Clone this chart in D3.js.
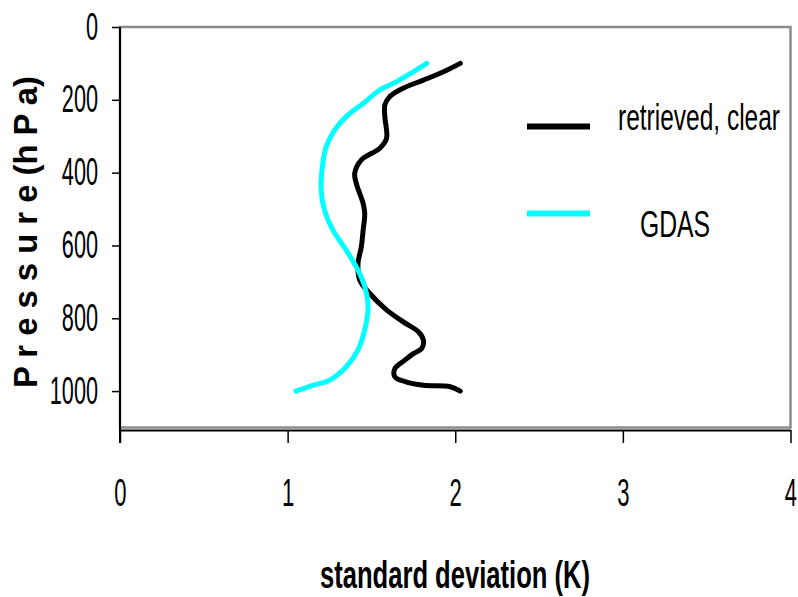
<!DOCTYPE html>
<html>
<head>
<meta charset="utf-8">
<script src="https://cdn.jsdelivr.net/npm/d3@7"></script>
<style>
  html, body { margin: 0; padding: 0; background: #fff; }
  svg { display: block; }
  text { font-family: "Liberation Sans", Arial, sans-serif; fill: #000; }
</style>
</head>
<body>
<svg id="chart" width="798" height="597"></svg>
<script>
// ---- data ----
const seriesNames = ["retrieved, clear", "GDAS"];
const seriesColors = ["#000000", "#00FFFF"];

const retrievedPressure = [100,123,146,168,191,214,246,306,333,365,402,430,484,512,560,603,649,695,732,777,810,837,860,883,897,915,938,961,974,984,988,1000];
const retrievedSD       = [2.03,1.93,1.81,1.69,1.61,1.58,1.58,1.59,1.55,1.44,1.40,1.41,1.45,1.46,1.45,1.44,1.42,1.43,1.49,1.59,1.69,1.78,1.81,1.80,1.75,1.70,1.64,1.64,1.70,1.81,1.97,2.03];

const gdasPressure = [100,123,150,173,210,246,283,329,374,448,503,558,613,668,713,768,832,887,933,970,984,1000];
const gdasSD       = [1.83,1.75,1.65,1.55,1.45,1.35,1.28,1.23,1.21,1.20,1.22,1.27,1.35,1.42,1.46,1.48,1.46,1.42,1.35,1.25,1.15,1.05];

const xTicks = [0, 1, 2, 3, 4];
const yTicks = [0, 200, 400, 600, 800, 1000];
const xTitle = "standard deviation (K)";
const yTitle = "P r e s s u r e  (h P a)";

// ---- layout ----
const svg = d3.select("#chart");
const x = d3.scaleLinear().domain([0, 4]).range([120, 790.5]);
const y = d3.scaleLinear().domain([0, 1100]).range([27, 427.5]);

function condense(sel, factor) {
  sel.each(function () {
    const len = this.getComputedTextLength();
    d3.select(this).attr("textLength", len * factor).attr("lengthAdjust", "spacingAndGlyphs");
  });
}

// plot box (grey)
svg.append("rect")
  .attr("x", x(0)).attr("y", y(0))
  .attr("width", x(4) - x(0)).attr("height", y(1100) - y(0))
  .attr("fill", "none").attr("stroke", "#8c8c8c").attr("stroke-width", 2.5);

// x axis
const xAxisY = y(1100) + 2.5;
const xAxis = svg.append("g")
  .attr("transform", `translate(0,${xAxisY})`)
  .attr("font-size", null).attr("font-family", null)
  .call(d3.axisBottom(x).tickValues(xTicks).tickFormat(d3.format("d")).tickSize(13).tickSizeOuter(0).tickPadding(36));
xAxis.attr("font-size", 38);
xAxis.select(".domain").attr("stroke", "#000").attr("stroke-width", 2);
xAxis.selectAll(".tick line").attr("stroke", "#000").attr("stroke-width", 1.5);
xAxis.selectAll(".tick text").style("font-size", "38px").style("font-family", "'Liberation Sans', Arial, sans-serif");
condense(xAxis.selectAll(".tick text"), 0.58);

// y axis
const yAxis = svg.append("g")
  .attr("transform", `translate(${x(0)},0)`)
  .call(d3.axisLeft(y).tickValues(yTicks).tickFormat(d3.format("d")).tickSize(8).tickSizeOuter(0).tickPadding(14));
yAxis.attr("font-size", 38);
yAxis.select(".domain").remove();
yAxis.append("line")
  .attr("x1", 0).attr("x2", 0)
  .attr("y1", y(0)).attr("y2", xAxisY + 13)
  .attr("stroke", "#000").attr("stroke-width", 2);
yAxis.selectAll(".tick line").attr("stroke", "#000").attr("stroke-width", 1.5);
yAxis.selectAll(".tick text").style("font-size", "38px").style("font-family", "'Liberation Sans', Arial, sans-serif");
condense(yAxis.selectAll(".tick text"), 0.57);

// series
const line = d3.line().x(d => x(d[0])).y(d => y(d[1])).curve(d3.curveCatmullRom.alpha(0.5));
const series = [
  d3.zip(retrievedSD, retrievedPressure),
  d3.zip(gdasSD, gdasPressure)
];
svg.append("g").selectAll("path")
  .data(series)
  .join("path")
  .attr("d", line)
  .attr("fill", "none")
  .attr("stroke", (d, i) => seriesColors[i])
  .attr("stroke-width", 5)
  .attr("stroke-linejoin", "round")
  .attr("stroke-linecap", "round");

// legend
const legendRows = [
  { y: 126.5, tx: 618, ty: 130, w: 162 },
  { y: 213.5, tx: 640, ty: 237, w: 70 }
];
const legend = svg.append("g");
legendRows.forEach((r, i) => {
  legend.append("line")
    .attr("x1", 527).attr("x2", 590)
    .attr("y1", r.y).attr("y2", r.y)
    .attr("stroke", seriesColors[i]).attr("stroke-width", 6);
  legend.append("text")
    .attr("x", r.tx).attr("y", r.ty)
    .style("font-size", "37px")
    .attr("textLength", r.w).attr("lengthAdjust", "spacingAndGlyphs")
    .text(seriesNames[i]);
});

// axis titles
svg.append("text")
  .attr("x", 455).attr("y", 588)
  .attr("text-anchor", "middle")
  .style("font-size", "38px").style("font-weight", "bold")
  .attr("textLength", 270).attr("lengthAdjust", "spacingAndGlyphs")
  .text(xTitle);

svg.append("text")
  .attr("transform", "translate(37,232) rotate(-90)")
  .attr("text-anchor", "middle")
  .style("font-size", "33px").style("font-weight", "bold")
  .attr("textLength", 312).attr("lengthAdjust", "spacingAndGlyphs")
  .text(yTitle);
</script>
</body>
</html>
